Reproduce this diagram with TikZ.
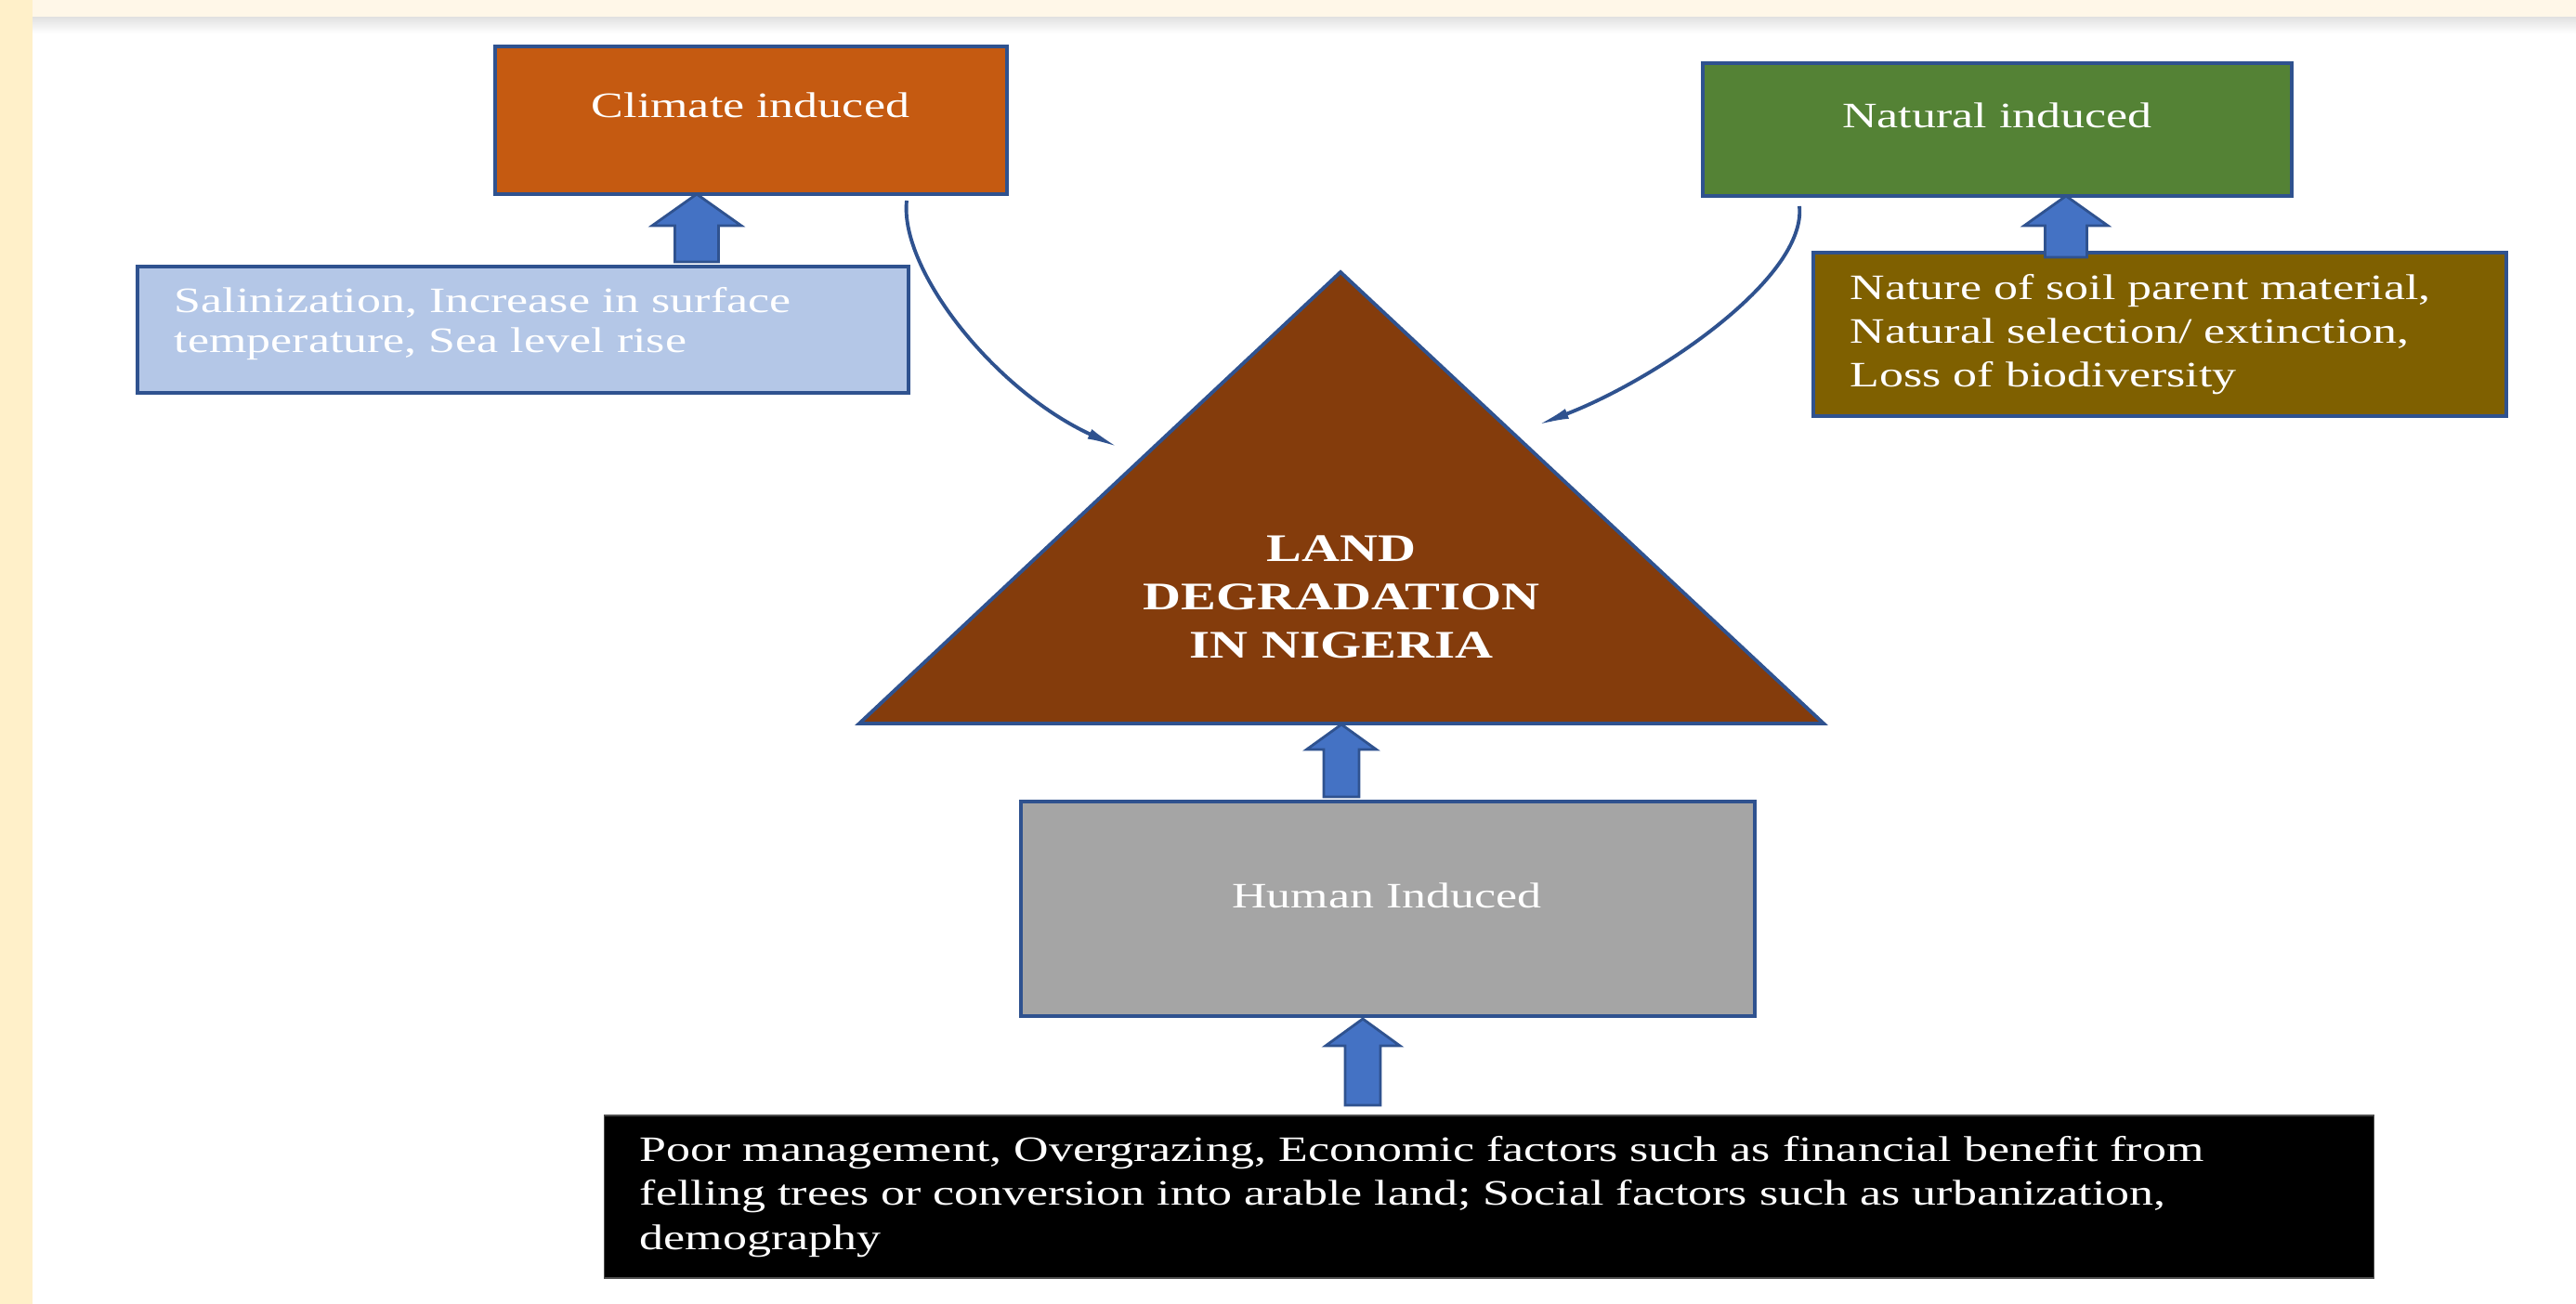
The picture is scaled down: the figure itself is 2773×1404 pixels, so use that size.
\documentclass[tikz,border=0pt]{standalone}
\usepackage{fontspec}
\setmainfont{Liberation Serif}[FakeStretch=1.35]
\usetikzlibrary{arrows.meta,calc}
\definecolor{outl}{HTML}{2F528F}
\definecolor{arrfill}{HTML}{4472C4}
\definecolor{climfill}{HTML}{C55A11}
\definecolor{salfill}{HTML}{B4C7E7}
\definecolor{natfill}{HTML}{548235}
\definecolor{soilfill}{HTML}{7F6000}
\definecolor{trifill}{HTML}{843C0C}
\definecolor{humfill}{HTML}{A5A5A5}
\definecolor{creamleft}{HTML}{FFF0C9}
\definecolor{creamtop}{HTML}{FFF7E8}
\newcommand\blockup[6]{%
  \filldraw[blockarrow] (#1,#2) -- ({#1+#3},#4) -- ({#1+#5},#4) -- ({#1+#5},#6)
    -- ({#1-#5},#6) -- ({#1-#5},#4) -- ({#1-#3},#4) -- cycle;}
\begin{document}
\begin{tikzpicture}[x=0.01cm,y=-0.01cm,
  box/.style={draw=outl, line width=1.1pt, inner sep=0pt},
  blockarrow/.style={fill=arrfill, draw=outl, line width=0.8pt, line join=miter},
  lbl/.style={text=white, inner sep=0pt, font=\fontsize{10.95pt}{13.4pt}\selectfont},
  curvearr/.style={draw=outl, line width=1.1pt, -{Latex[length=10pt,width=3.2pt]}},
]
\useasboundingbox (0,0) rectangle (2773,1404);
\fill[white] (0,0) rectangle (2773,1404);
\shade[top color=black!12, bottom color=white] (35,18) rectangle (2773,36);
\fill[creamtop] (35,0) rectangle (2773,18);
\fill[creamleft] (0,0) rectangle (35,1404);

% boxes
\node[box, fill=climfill, minimum width=5.51cm, minimum height=1.59cm] (climate) at (808.5,129.5) {};
\node[box, fill=salfill, minimum width=8.30cm, minimum height=1.36cm] (salin) at (563,355) {};
\node[box, fill=natfill, minimum width=6.34cm, minimum height=1.43cm] (natural) at (2150,139.5) {};
\node[box, fill=soilfill, minimum width=7.46cm, minimum height=1.76cm] (soil) at (2325,360) {};
\node[box, fill=humfill, minimum width=7.90cm, minimum height=2.31cm] (human) at (1494,978.5) {};
\node[fill=black, draw=black!70, line width=0.4pt, inner sep=0pt, minimum width=19.04cm, minimum height=1.75cm] (poor) at (1603,1288.5) {};

% triangle
\coordinate (apex) at (1443,293);
\coordinate (bl) at (925,779);
\coordinate (br) at (1963,779);
\filldraw[fill=trifill, draw=outl, line width=1.1pt, line join=miter] (apex) -- (br) -- (bl) -- cycle;

% labels (multi-line nodes are placed by the baseline of their last line)
\node[lbl, anchor=base] (climtxt) at (808,127) {Climate induced};
\node[lbl, anchor=base] (nattxt) at (2150,138) {Natural induced};
\node[lbl, anchor=base] (humtxt) at (1493,977) {Human Induced};
\node[lbl, anchor=base west, align=left, font=\fontsize{10.95pt}{12.4pt}\selectfont] (saltxt) at (187,380)
  {Salinization, Increase in surface\\temperature, Sea level rise};
\node[lbl, anchor=base west, align=left] (soiltxt) at (1991,417)
  {Nature of soil parent material,\\Natural selection/ extinction,\\Loss of biodiversity};
\node[lbl, anchor=base west, align=left] (poortxt) at (688,1345)
  {Poor management, Overgrazing, Economic factors such as financial benefit from\\felling trees or conversion into arable land; Social factors such as urbanization,\\demography};
\node[lbl, anchor=base, align=center, font=\bfseries\fontsize{11.95pt}{14.8pt}\selectfont] (tritxt) at (1444,709)
  {LAND\\DEGRADATION\\IN NIGERIA};

% block arrows
\blockup{750}{209}{48}{243}{23.5}{282}
\blockup{2224}{211}{45}{243}{22.5}{277}
\blockup{1444}{780}{37.5}{807}{19}{858}
\blockup{1467}{1097}{40}{1126}{19}{1190}

% curved connectors
\coordinate (ltop) at (976,216);
\coordinate (lbot) at (1205,482);
\coordinate (rtop) at (1937,222);
\coordinate (rbot) at (1654,458);
\draw[curvearr] (ltop) .. controls (968,290) and (1070,420) .. (lbot);
\draw[curvearr] (rtop) .. controls (1945,300) and (1780,410) .. (rbot);
\end{tikzpicture}
\end{document}
